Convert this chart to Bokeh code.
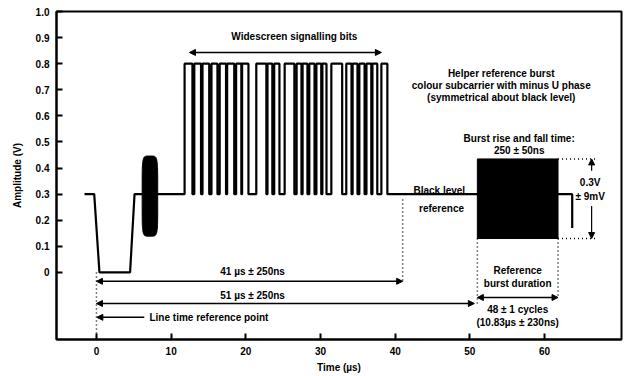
import numpy as np
from bokeh.plotting import figure
from bokeh.models import FixedTicker, Arrow, NormalHead, ColumnDataSource
from bokeh.embed import file_html
from bokeh.resources import INLINE
from bokeh.core.properties import value

# ---- axes ----
x_ticks = [0, 10, 20, 30, 40, 50, 60]
x_tick_labels = ["0", "10", "20", "30", "40", "50", "60"]
y_ticks = [0, 0.1, 0.2, 0.3, 0.4, 0.5, 0.6, 0.7, 0.8, 0.9, 1.0]
y_tick_labels = ["0", "0.1", "0.2", "0.3", "0.4", "0.5", "0.6", "0.7", "0.8", "0.9", "1.0"]

# ---- waveform data (time in us, amplitude in V) ----
black_level = 0.3
sync_t = [-1.6, -0.3, 0.4, 4.5, 5.1]
sync_v = [0.3, 0.3, 0.0, 0.0, 0.3]
colour_burst_t = [6.12, 8.2]
colour_burst_v = [0.139, 0.446]
wss_level = 0.8
wss_rise = [11.8, 13.1, 14.2, 15.4, 16.5, 17.5, 18.7, 19.5, 21.4, 22.9, 23.8, 25.2,
            26.8, 27.6, 28.5, 29.45, 30.25, 31.45, 33.45, 34.3, 35.2, 36.15, 36.95, 38.15]
wss_fall = [12.85, 14.0, 15.1, 16.2, 17.35, 18.45, 19.4, 20.35, 22.75, 23.55, 24.5, 26.5,
            27.45, 28.25, 29.2, 30.1, 30.8, 32.9, 34.15, 34.95, 35.9, 36.8, 37.6, 38.95]
helper_burst_t = [51.0, 61.8]
helper_burst_v = [0.13, 0.435]
line_end_t = 63.7
line_end_v = 0.17

FONT = value("Liberation Sans")

p = figure(frame_width=565, frame_height=328, x_range=(-5.35, 70.3), y_range=(-0.257, 1.0),
           output_backend="svg", toolbar_location=None,
           min_border_left=56, min_border_right=6, min_border_top=11, min_border_bottom=36)
p.grid.visible = False
p.outline_line_color = "black"
p.outline_line_width = 2
p.background_fill_color = "white"
p.border_fill_color = "white"

for ax in (p.xaxis[0], p.yaxis[0]):
    ax.axis_line_width = 2
    ax.axis_line_color = "black"
    ax.major_tick_in = 6
    ax.major_tick_out = 0
    ax.major_tick_line_width = 2
    ax.minor_tick_line_color = None
    ax.major_label_text_font = "Liberation Sans"
    ax.major_label_text_font_style = "bold"
    ax.major_label_text_font_size = "10px"
    ax.major_label_text_color = "black"
    ax.axis_label_text_font = "Liberation Sans"
    ax.axis_label_text_font_style = "bold"
    ax.axis_label_text_font_size = "10px"
    ax.axis_label_text_color = "black"

p.xaxis[0].ticker = FixedTicker(ticks=x_ticks)
p.xaxis[0].major_label_overrides = dict(zip(x_ticks, x_tick_labels))
p.xaxis[0].axis_label = "Time (µs)"
p.xaxis[0].major_label_standoff = 7
p.xaxis[0].axis_label_standoff = 4
p.yaxis[0].ticker = FixedTicker(ticks=y_ticks)
p.yaxis[0].major_label_overrides = dict(zip(y_ticks, y_tick_labels))
p.yaxis[0].axis_label = "Amplitude (V)"
p.yaxis[0].major_label_standoff = 7
p.yaxis[0].axis_label_standoff = 10

# ---- build waveform ----
t = list(sync_t)
v = list(sync_v)
for r, f in zip(wss_rise, wss_fall):
    t += [r, r, f, f]
    v += [black_level, wss_level, wss_level, black_level]
t += [line_end_t, line_end_t]
v += [black_level, line_end_v]
p.line(t, v, line_color="black", line_width=2.2)

# colour burst (rounded envelope)
cx = (colour_burst_t[0] + colour_burst_t[1]) / 2
cy = (colour_burst_v[0] + colour_burst_v[1]) / 2
a = (colour_burst_t[1] - colour_burst_t[0]) / 2
b = (colour_burst_v[1] - colour_burst_v[0]) / 2
th = np.linspace(0, 2 * np.pi, 120)
n = 6.0
ex = cx + a * np.sign(np.cos(th)) * np.abs(np.cos(th)) ** (2 / n)
ey = cy + b * np.sign(np.sin(th)) * np.abs(np.sin(th)) ** (2 / n)
p.patch(ex, ey, fill_color="black", line_color="black")

# helper reference burst
p.quad(left=[helper_burst_t[0]], right=[helper_burst_t[1]],
       bottom=[helper_burst_v[0]], top=[helper_burst_v[1]],
       fill_color="black", line_color="black")

# ---- annotation geometry ----
y_41 = -0.034
y_51 = -0.119
y_ltr = -0.172
y_bd = -0.096
y_wss = 0.843
x_volt = 66.3
x_dot_end = 67.0
wss_arrow = [12.45, 38.15]
ltr_arrow_end = 6.4

dot = dict(line_color="black", line_width=1.5, line_dash="1 3")
p.line([0, 0], [0.0, -0.257], **dot)
p.line([41, 41], [black_level - 0.02, y_41], **dot)
p.line([helper_burst_t[0]] * 2, [helper_burst_v[0], y_51 - 0.005], **dot)
p.line([helper_burst_t[1]] * 2, [helper_burst_v[0], y_bd], **dot)
p.line([helper_burst_t[1], x_dot_end], [helper_burst_v[1]] * 2, **dot)
p.line([helper_burst_t[1], x_dot_end], [helper_burst_v[0]] * 2, **dot)


def arr(x0, y0, x1, y1, both=True, lw=1.5):
    head = lambda: NormalHead(size=6, fill_color="black", line_color="black")
    kw = dict(end=head(), x_start=x0, y_start=y0, x_end=x1, y_end=y1,
              line_width=lw, line_color="black")
    kw["start"] = head() if both else None
    p.add_layout(Arrow(**kw))


arr(wss_arrow[0], y_wss, wss_arrow[1], y_wss)
arr(0, y_41, 41, y_41)
arr(0, y_51, helper_burst_t[0] - 0.4, y_51)
arr(ltr_arrow_end, y_ltr, 0.05, y_ltr, both=False)
arr(helper_burst_t[0], y_bd, helper_burst_t[1], y_bd)
arr(x_volt, 0.39, x_volt, helper_burst_v[1], both=False, lw=1.2)
arr(x_volt, 0.255, x_volt, helper_burst_v[0], both=False, lw=1.2)

# ---- texts ----
txt = ColumnDataSource(dict(
    x=[26.5, 54.2, 54.2, 54.2, 56.6, 56.6, 45.9, 46.2, 66.1, 66.1, 20.9, 20.9,
       56.4, 56.4, 56.4, 56.4],
    y=[0.904, 0.762, 0.716, 0.67, 0.513, 0.467, 0.314, 0.245, 0.345, 0.291, 0.004, -0.088,
       0.008, -0.042, -0.142, -0.192],
    s=["Widescreen signalling bits", "Helper reference burst",
       "colour subcarrier with minus U phase", "(symmetrical about black level)",
       "Burst rise and fall time:", "250 ± 50ns", "Black level", "reference",
       "0.3V", "± 9mV", "41 µs ± 250ns", "51 µs ± 250ns",
       "Reference", "burst duration", "48 ± 1 cycles", "(10.83µs ± 230ns)"],
))
p.text(x="x", y="y", text="s", source=txt, text_font=FONT, text_font_style="bold",
       text_font_size="10px", text_align="center", text_baseline="middle", text_color="black")
p.text(x=[7.1], y=[y_ltr], text=["Line time reference point"], text_font=FONT,
       text_font_style="bold", text_font_size="10px", text_align="left",
       text_baseline="middle", text_color="black")

open("out.html", "w").write(file_html(p, INLINE))
